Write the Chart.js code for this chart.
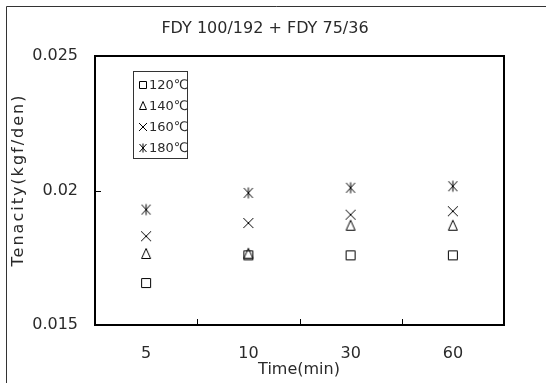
<!DOCTYPE html>
<html>
<head>
<meta charset="utf-8">
<script src="https://cdn.jsdelivr.net/npm/chart.js@4/dist/chart.umd.min.js"></script>
<style>
html,body{margin:0;padding:0;background:#fff;}
#wrap{width:546px;height:383px;}
</style>
</head>
<body>
<div id="wrap"><canvas id="c" width="546" height="383"></canvas></div>
<script>
const categories = ['5', '10', '30', '60'];
const seriesNames = ['120℃', '140℃', '160℃', '180℃'];
const s120 = [0.01656, 0.01759, 0.01759, 0.01759];
const s140 = [0.01764, 0.01765, 0.01869, 0.01869];
const s160 = [0.01830, 0.01879, 0.01910, 0.01923];
const s180 = [0.01929, 0.01991, 0.02010, 0.02016];
const yTicks = [0.015, 0.02, 0.025];
const titleText = 'FDY 100/192 + FDY 75/36';
const xTitle = 'Time(min)';
const yTitle = 'Tenacity(kgf/den)';

const FONT = '"DejaVu Sans", "Noto Sans CJK KR", sans-serif';
const TXT = '#2a2a2a';

function mk(kind, s) {
  const c = document.createElement('canvas');
  c.width = s; c.height = s;
  const g = c.getContext('2d');
  g.strokeStyle = '#000'; g.lineWidth = 1;
  const m = s / 2, h = s / 2 - 2;
  g.beginPath();
  if (kind === 'sq') {
    g.rect(Math.round(m - h) + 0.5, Math.round(m - h) + 0.5, Math.round(2 * h) - 1, Math.round(2 * h) - 1);
  } else if (kind === 'tri') {
    g.moveTo(m, m - h - 0.5); g.lineTo(m + h - 0.5, m + h - 0.5); g.lineTo(m - h + 0.5, m + h - 0.5); g.closePath();
  } else if (kind === 'x') {
    g.moveTo(m - h, m - h); g.lineTo(m + h, m + h);
    g.moveTo(m + h, m - h); g.lineTo(m - h, m + h);
  } else {
    g.moveTo(m - h + 0.5, m - h); g.lineTo(m + h - 0.5, m + h);
    g.moveTo(m + h - 0.5, m - h); g.lineTo(m - h + 0.5, m + h);
    g.moveTo(m, m - h - 0.5); g.lineTo(m, m + h + 0.5);
  }
  g.stroke();
  return c;
}
const icons = [mk('sq', 14), mk('tri', 14), mk('x', 14), mk('ast', 14)];
const iconsSmall = [mk('sq', 12), mk('tri', 12), mk('x', 12), mk('ast', 12)];
const seriesData = [s120, s140, s160, s180];

const decor = {
  id: 'decor',
  beforeDraw(chart) {
    const ctx = chart.ctx;
    ctx.save();
    ctx.fillStyle = '#fff';
    ctx.fillRect(0, 0, chart.width, chart.height);
    ctx.strokeStyle = '#333';
    ctx.lineWidth = 1;
    ctx.beginPath();
    ctx.moveTo(6.5, chart.height + 5); ctx.lineTo(6.5, 6.5); ctx.lineTo(chart.width + 5, 6.5);
    ctx.stroke();
    ctx.restore();
  },
  afterDatasetsDraw(chart) {
    const ctx = chart.ctx, a = chart.chartArea;
    const xs = chart.scales.x, ys = chart.scales.y;
    ctx.save();
    ctx.strokeStyle = '#000';
    ctx.lineWidth = 2;
    ctx.strokeRect(a.left, a.top, a.right - a.left, a.bottom - a.top);
    ctx.lineWidth = 1;
    ctx.beginPath();
    for (let i = 1; i < categories.length; i++) {
      const px = Math.round((xs.getPixelForValue(i - 1) + xs.getPixelForValue(i)) / 2) + 0.5;
      ctx.moveTo(px, a.bottom); ctx.lineTo(px, a.bottom - 6);
    }
    for (let i = 1; i < yTicks.length - 1; i++) {
      const py = Math.round(ys.getPixelForValue(yTicks[i])) + 0.5;
      ctx.moveTo(a.left, py); ctx.lineTo(a.left + 6, py);
    }
    ctx.stroke();

    // texts
    ctx.fillStyle = TXT;
    ctx.textAlign = 'center';
    ctx.textBaseline = 'middle';
    ctx.font = '16px ' + FONT;
    ctx.fillText(titleText, 265, 29);
    ctx.fillText(xTitle, 299, 370);
    ctx.save();
    ctx.translate(19, 180);
    ctx.rotate(-Math.PI / 2);
    try { ctx.letterSpacing = '2px'; } catch (e) {}
    ctx.fillText(yTitle, 0, 0);
    ctx.restore();

    // legend
    const lx = 133, ly = 71, lw = 54, lh = 87;
    ctx.lineWidth = 1;
    ctx.strokeStyle = '#333';
    ctx.strokeRect(lx + 0.5, ly + 0.5, lw, lh);
    ctx.textAlign = 'left';
    ctx.font = '13px ' + FONT;
    for (let i = 0; i < seriesNames.length; i++) {
      const cy = ly + 14 + i * 21;
      const ic = iconsSmall[i];
      ctx.drawImage(ic, 143 - ic.width / 2, cy - ic.height / 2);
      ctx.fillText(seriesNames[i], 149, cy + 1);
    }
    ctx.restore();
  }
};

new Chart(document.getElementById('c'), {
  type: 'line',
  data: {
    labels: categories,
    datasets: seriesNames.map((n, i) => ({
      label: n,
      data: seriesData[i],
      showLine: false,
      pointStyle: icons[i],
      pointRadius: 7,
      pointHoverRadius: 7
    }))
  },
  options: {
    responsive: false,
    animation: false,
    events: [],
    layout: { padding: { top: 56, right: 42, left: 0, bottom: 0 } },
    plugins: { legend: { display: false }, title: { display: false }, tooltip: { enabled: false } },
    scales: {
      x: {
        type: 'category',
        offset: true,
        grid: { display: false, drawTicks: false, offset: true },
        border: { display: false },
        ticks: { color: TXT, font: { size: 16, family: FONT }, padding: 19, maxRotation: 0 },
        afterFit(s) { s.height = 383 - 325; }
      },
      y: {
        min: 0.015, max: 0.025,
        afterBuildTicks(s) { s.ticks = yTicks.map(v => ({ value: v })); },
        grid: { display: false, drawTicks: false },
        border: { display: false },
        ticks: { color: TXT, font: { size: 16, family: FONT }, padding: 17,
          callback: (v) => String(+v.toFixed(4)) },
        afterFit(s) { s.width = 95; }
      }
    }
  },
  plugins: [decor]
});
</script>
</body>
</html>
